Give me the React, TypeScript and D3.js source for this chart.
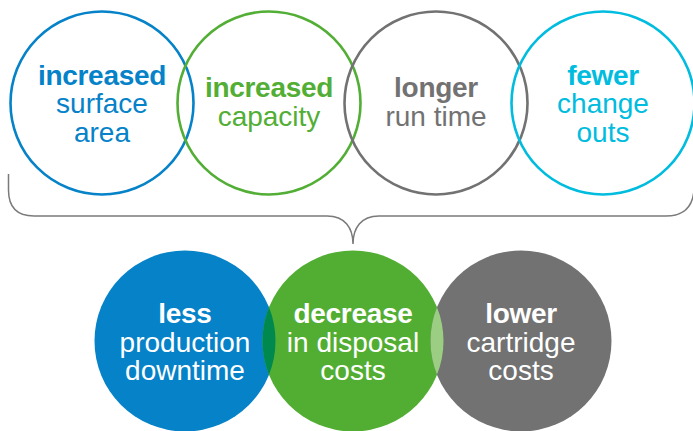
import React from "react";
import * as d3 from "d3";

const W = 693;
const H = 431;

const topBold = ["increased", "increased", "longer", "fewer"];
const topRest = [["surface", "area"], ["capacity"], ["run time"], ["change", "outs"]];
const topColors = ["#0582C8", "#52AE35", "#727272", "#00BCDE"];

const bottomBold = ["less", "decrease", "lower"];
const bottomRest = [["production", "downtime"], ["in disposal", "costs"], ["cartridge", "costs"]];
const bottomColors = ["#0582C8", "#52AE32", "#727272"];
const overlapColors = ["#00894F", "#9BCE83"];

const FONT = "'Liberation Sans', Arial, Helvetica, sans-serif";

export default function App() {
  const xTop = d3.scaleLinear().domain([0, 3]).range([102, 603]);
  const xBot = d3.scaleLinear().domain([0, 2]).range([185, 521]);
  const topY = 103;
  const topR = 91.5;
  const botY = 341;
  const botR = 90.5;

  const brace = d3.path();
  brace.moveTo(8.5, 174);
  brace.lineTo(8.5, 190);
  brace.quadraticCurveTo(8.5, 216, 34, 216);
  brace.lineTo(327, 216);
  brace.bezierCurveTo(345, 216, 353, 228, 353, 244);
  brace.bezierCurveTo(353, 228, 361, 216, 379, 216);
  brace.lineTo(666, 216);
  brace.quadraticCurveTo(692, 216, 694, 190);

  const lh = 28.5;

  return (
    <svg width={W} height={H} style={{ position: "absolute", left: 0, top: 0 }}>
      <rect width={W} height={H} fill="#fff" />
      <defs>
        {bottomColors.map((_, i) => (
          <clipPath id={`bc${i}`} key={i}>
            <circle cx={xBot(i)} cy={botY} r={botR} />
          </clipPath>
        ))}
      </defs>
      {topColors.map((c, i) => (
        <circle key={i} cx={xTop(i)} cy={topY} r={topR} fill="none" stroke={c} strokeWidth={2.6} />
      ))}
      {topBold.map((b, i) => {
        const lines = [b, ...topRest[i]];
        const n = lines.length;
        const firstBase = n === 3 ? 84.5 : 97;
        return (
          <text key={i} x={xTop(i)} textAnchor="middle" fill={topColors[i]} fontFamily={FONT} fontSize={28}>
            {lines.map((l, j) => (
              <tspan
                key={j}
                x={xTop(i)}
                y={firstBase + j * lh}
                fontWeight={j === 0 ? "bold" : "normal"}
                letterSpacing={j === 0 ? -0.3 : 0}
              >
                {l}
              </tspan>
            ))}
          </text>
        );
      })}
      <path d={brace.toString()} fill="none" stroke="#7a7a7a" strokeWidth={1.5} />
      {bottomColors.map((c, i) => (
        <circle key={i} cx={xBot(i)} cy={botY} r={botR} fill={c} />
      ))}
      {overlapColors.map((c, i) => (
        <g key={i} clipPath={`url(#bc${i})`}>
          <circle cx={xBot(i + 1)} cy={botY} r={botR} fill={c} />
        </g>
      ))}
      {bottomBold.map((b, i) => {
        const lines = [b, ...bottomRest[i]];
        return (
          <text key={i} x={xBot(i)} textAnchor="middle" fill="#fff" fontFamily={FONT} fontSize={28}>
            {lines.map((l, j) => (
              <tspan
                key={j}
                x={xBot(i)}
                y={323 + j * lh}
                fontWeight={j === 0 ? "bold" : "normal"}
                letterSpacing={j === 0 ? -0.3 : 0}
              >
                {l}
              </tspan>
            ))}
          </text>
        );
      })}
    </svg>
  );
}
